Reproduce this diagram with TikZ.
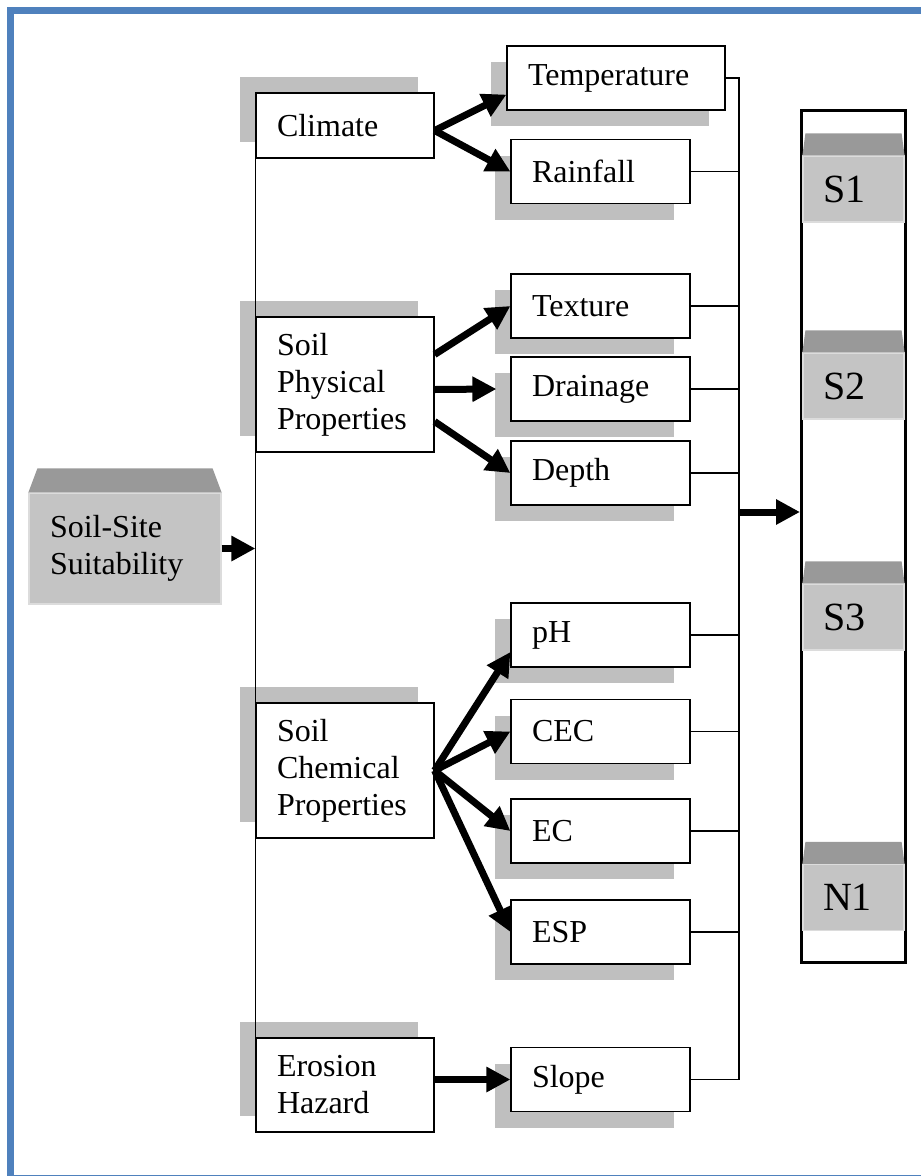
\documentclass[tikz,border=0pt]{standalone}
\usepackage{fontspec}
\setmainfont{Liberation Serif}
\usepackage{tikz}
\usetikzlibrary{arrows.meta,shadows,calc}
\definecolor{frameblue}{HTML}{4F81BD}
\definecolor{shadegray}{HTML}{BFBFBF}
\definecolor{facegray}{HTML}{C4C4C4}
\definecolor{bevelgray}{HTML}{999999}

\begin{document}
\begin{tikzpicture}[x=1pt,y=-1pt,
  whitebox/.style={draw,fill=white,line width=1.2pt,inner xsep=21pt,inner ysep=0pt,align=left,
    font=\fontsize{32}{37}\selectfont},
  factorbox/.style={whitebox,text width=136pt,
    general shadow={fill=shadegray,shadow xshift=-16pt,shadow yshift=16pt}},
  criterionbox/.style={whitebox,text width=137pt,minimum height=64pt,
    general shadow={fill=shadegray,shadow xshift=-16pt,shadow yshift=-16pt}},
  graybox/.style={fill=facegray,draw=facegray!60!white,line width=1.2pt,inner ysep=0pt,align=left},
  classbox/.style={graybox,inner xsep=20pt,text width=61pt,minimum height=66pt,
    font=\fontsize{40}{46}\selectfont},
  busline/.style={line width=1.2pt},
  bigarrow/.style={line width=7pt,-{Triangle[length=24pt,width=24pt]}}]
\useasboundingbox (0,0) rectangle (921,1176);
\draw[frameblue,line width=7pt] (10.5,10) rectangle (930,1178);

\node[graybox,inner xsep=21pt,text width=150pt,minimum height=111pt,font=\fontsize{32}{37}\selectfont]
  (site) at (125,548.5) {Soil-Site\\Suitability};

\node[factorbox,minimum height=65pt] (climate) at (345,125.5) {Climate};
\node[factorbox,minimum height=135pt] (phys) at (345,384.5) {Soil\\Physical\\Properties};
\node[factorbox,minimum height=135pt] (chem) at (345,770.5) {Soil\\Chemical\\Properties};
\node[factorbox,minimum height=94pt] (erosion) at (345,1085) {Erosion\\Hazard};

\node[criterionbox,text width=176pt] (temp) at (616,78) {Temperature};
\node[criterionbox] (rain) at (600.5,171.5) {Rainfall};
\node[criterionbox] (texture) at (600.5,306) {Texture};
\node[criterionbox] (drainage) at (600.5,389) {Drainage};
\node[criterionbox] (depth) at (600.5,473) {Depth};
\node[criterionbox] (ph) at (600.5,635) {pH};
\node[criterionbox] (cec) at (600.5,731.5) {CEC};
\node[criterionbox] (ec) at (600.5,831) {EC};
\node[criterionbox] (esp) at (600.5,932) {ESP};
\node[criterionbox] (slope) at (600.5,1079.5) {Slope};

\node[draw,line width=3pt,minimum width=104pt,minimum height=852pt] (column) at (853.5,536.5) {};
\node[classbox] (s1) at (853.5,189) {S1};
\node[classbox] (s2) at (853.5,386) {S2};
\node[classbox] (s3) at (853.5,617) {S3};
\node[classbox] (n1) at (853.5,897.5) {N1};
\fill[bevelgray] (site.north west) -- ([xshift=9pt,yshift=24pt]site.north west)
  -- ([xshift=-9pt,yshift=24pt]site.north east) -- (site.north east) -- cycle;
\foreach \n in {s1,s2,s3,n1}
  \fill[bevelgray] (\n.north west) -- ([xshift=3pt,yshift=22pt]\n.north west)
    -- ([xshift=-3pt,yshift=22pt]\n.north east) -- (\n.north east) -- cycle;

\draw[busline] (climate.north west) -- (erosion.south west);
\draw[bigarrow] (site.east) -- (site.east -| climate.west);

\draw[bigarrow] ([yshift=-5pt]climate.east) -- ([yshift=16pt]temp.south west);
\draw[bigarrow] ([yshift=-5pt]climate.east) -- (rain.west);
\draw[bigarrow] ([yshift=30pt]phys.east) -- (texture.west);
\draw[bigarrow] ([yshift=-5pt]phys.east) -- ([xshift=-14pt]drainage.west);
\draw[bigarrow] ([yshift=-37pt]phys.east) -- (depth.west);
\draw[bigarrow] (chem.east) -- ([yshift=-17pt]ph.west);
\foreach \t in {cec,ec,esp}
  \draw[bigarrow] (chem.east) -- (\t.west);
\draw[bigarrow] (erosion.east |- slope.west) -- (slope.west);

\coordinate (bustop) at (739,78);
\draw[busline] (temp.east) -- (temp.east -| bustop) -- (slope.east -| bustop) -- (slope.east);
\foreach \t in {rain,texture,drainage,depth,ph,cec,ec,esp}
  \draw[busline] (\t.east) -- (\t.east -| bustop);
\coordinate (busout) at (739,512);
\draw[bigarrow] (busout) -- (busout -| column.west);
\end{tikzpicture}
\end{document}
